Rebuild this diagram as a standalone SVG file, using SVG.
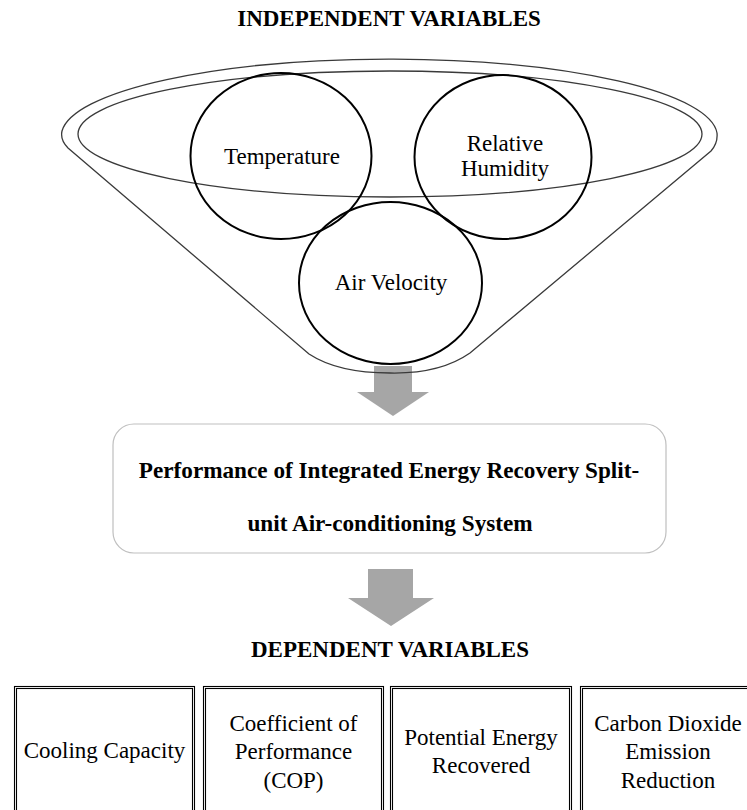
<svg xmlns="http://www.w3.org/2000/svg" width="747" height="810" viewBox="0 0 747 810">
<style>
.funnel{fill:none;stroke:#3a3a3a;stroke-width:1.3}
.circ{fill:none;stroke:#000;stroke-width:2}
.arrow{fill:#a6a6a6}
.dbl{fill:none;stroke:#000;stroke-width:1.1}
</style>
<rect width="747" height="810" fill="#fff"/>
<g font-family="Liberation Serif" font-size="23" fill="#000" text-anchor="middle">
<text x="389" y="26" font-family="Liberation Serif" font-weight="bold">INDEPENDENT VARIABLES</text>
<g id="connectors">
<polygon class="arrow" points="374,366 412,366 412,392 429,392 393,416 357,392 374,392"/>
<polygon class="arrow" points="368,569 413,569 413,598 434,598 391,626 348,598 368,598"/>
</g>
<g id="funnel">
<path class="funnel" d="M 68,148 Q 60,140 62,131 A 328 77 0 0 1 717,133 Q 718,143 711,151 L 470,353 Q 440,374 390,373 Q 338,373 309,354 Z"/>
<ellipse class="funnel" cx="390" cy="134" rx="312" ry="63"/>
</g>
<g id="temperature">
<ellipse class="circ" cx="281" cy="156" rx="90.5" ry="83"/>
<text x="282" y="164" font-family="Liberation Serif">Temperature</text>
</g>
<g id="relative-humidity">
<ellipse class="circ" cx="503" cy="157" rx="88.5" ry="82"/>
<text x="505" y="151" font-family="Liberation Serif">Relative</text>
<text x="505" y="176" font-family="Liberation Serif">Humidity</text>
</g>
<g id="air-velocity">
<ellipse class="circ" cx="390.5" cy="283" rx="91.5" ry="81"/>
<text x="391" y="290" font-family="Liberation Serif">Air Velocity</text>
</g>
<g id="performance">
<rect x="113" y="424" width="553" height="129" rx="21" ry="21" fill="#fff" stroke="#bfbfbf" stroke-width="1.2"/>
<text x="389" y="478" font-family="Liberation Serif" font-weight="bold" font-size="23.2">Performance of Integrated Energy Recovery Split-</text>
<text x="390" y="531" font-family="Liberation Serif" font-weight="bold" font-size="23.2">unit Air-conditioning System</text>
</g>
<text x="390" y="657" font-family="Liberation Serif" font-weight="bold">DEPENDENT VARIABLES</text>
<g id="cooling-capacity">
<rect class="dbl" x="14.5" y="686.5" width="180" height="140"/>
<rect class="dbl" x="16.5" y="688.5" width="176" height="140"/>
<text x="104.5" y="758" font-family="Liberation Serif">Cooling Capacity</text>
</g>
<g id="cop">
<rect class="dbl" x="203.5" y="686.5" width="180" height="140"/>
<rect class="dbl" x="205.5" y="688.5" width="176" height="140"/>
<text x="293.5" y="731" font-family="Liberation Serif">Coefficient of</text>
<text x="293.5" y="759" font-family="Liberation Serif">Performance</text>
<text x="293.5" y="788" font-family="Liberation Serif">(COP)</text>
</g>
<g id="potential-energy">
<rect class="dbl" x="390.5" y="686.5" width="181" height="140"/>
<rect class="dbl" x="392.5" y="688.5" width="177" height="140"/>
<text x="481" y="745" font-family="Liberation Serif">Potential Energy</text>
<text x="481" y="773" font-family="Liberation Serif">Recovered</text>
</g>
<g id="co2-reduction">
<rect class="dbl" x="580.5" y="686.5" width="181" height="140"/>
<rect class="dbl" x="582.5" y="688.5" width="177" height="140"/>
<text x="668" y="731" font-family="Liberation Serif">Carbon Dioxide</text>
<text x="668" y="759" font-family="Liberation Serif">Emission</text>
<text x="668" y="788" font-family="Liberation Serif">Reduction</text>
</g>
</g>
</svg>
